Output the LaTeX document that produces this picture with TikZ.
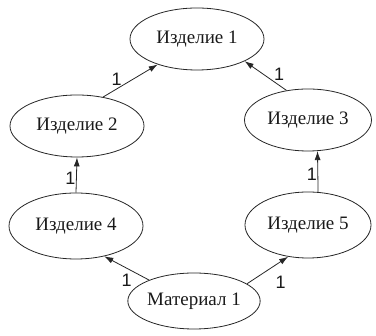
\documentclass[tikz,border=0pt]{standalone}
\usepackage{fontspec}
\setmainfont{Liberation Serif}
\newfontfamily\lblfont{Liberation Sans}
\usetikzlibrary{shapes.geometric,arrows.meta,positioning}
\begin{document}
\begin{tikzpicture}[x=1pt,y=-1pt,
  item/.style={ellipse,draw=black!85,line width=0.8pt,inner sep=0pt,
    minimum width=134pt,minimum height=62pt,font=\fontsize{19}{21}\selectfont,text=black!90},
  arr/.style={draw=black!85,line width=0.8pt,-{Latex[length=9pt,width=6pt]}},
  lbl/.style={font=\lblfont\fontsize{18}{20}\selectfont,text=black!90,inner sep=0pt}]
\useasboundingbox (0,0) rectangle (376,336);
\node[item] (n1) at (197,39) {Изделие 1};
\node[item] (n2) at (77,126) {Изделие 2};
\node[item,minimum width=127pt] (n3) at (308,120) {Изделие 3};
\node[item,minimum height=66pt] (n4) at (76,226) {Изделие 4};
\node[item,minimum width=126pt,minimum height=66pt] (n5) at (308,225) {Изделие 5};
\node[item,minimum width=132pt,minimum height=56pt] (m1) at (194,301) {Материал 1};
\draw[arr] (n2.48) -- node[lbl,pos=0.25,shift={(0,-10)}]{1} (n1.213);
\draw[arr] (n3.126) -- node[lbl,pos=0.25,shift={(3,-9)}]{1} (n1.335);
\draw[arr] (n4.90) -- node[lbl,pos=0.5,shift={(-6,3)}]{1} (n2.270);
\draw[arr] (n5.73) -- node[lbl,pos=0.5,shift={(-6,3)}]{1} (n3.287);
\draw[arr] (m1.155) -- node[lbl,pos=0.5,shift={(0,12.5)}]{1} (n4.313);
\draw[arr] (m1.18) -- node[lbl,pos=0.5,shift={(13,12)}]{1} (n5.238);
\end{tikzpicture}
\end{document}
